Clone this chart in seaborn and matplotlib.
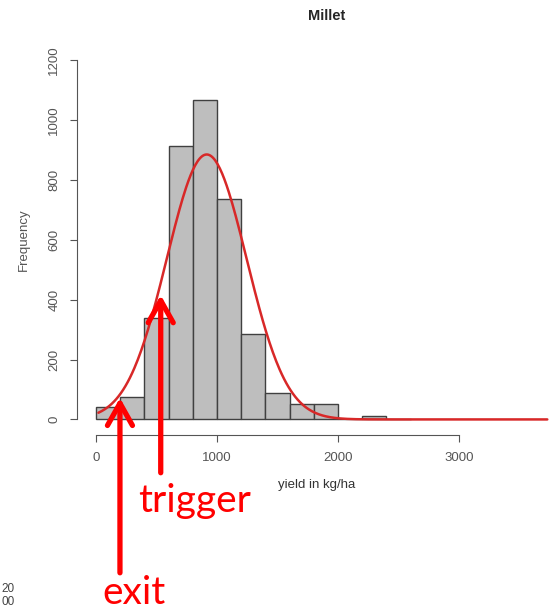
import numpy as np
import pandas as pd
import matplotlib
matplotlib.use("Agg")
import matplotlib.pyplot as plt
import seaborn as sns

# histogram of millet yield, bins of 200 kg/ha
bin_edges = [0, 200, 400, 600, 800, 1000, 1200, 1400, 1600, 1800, 2000, 2200, 2400, 2600]
counts = [40, 76, 337, 913, 1067, 735, 284, 89, 51, 51, 2, 10, 3]

# fitted normal curve
fit_mean = 915
fit_sd = 330
fit_from, fit_to = 20, 3730

x_ticks = [0, 1000, 2000, 3000]
y_ticks = [0, 200, 400, 600, 800, 1000, 1200]

sns.set_style("white")
plt.rcParams["font.family"] = ["Liberation Sans", "DejaVu Sans"]

fig = plt.figure(figsize=(5.58, 6.12), dpi=100)
ax = fig.add_axes([0.138, 0.2892, 0.858, 0.6373])

centers = [(a + b) / 2 for a, b in zip(bin_edges[:-1], bin_edges[1:])]
hist_df = pd.DataFrame({"yield": centers, "n": counts})
sns.histplot(data=hist_df, x="yield", weights="n", bins=bin_edges, ax=ax,
             color="#bebebe", edgecolor="#404040", linewidth=1.0, alpha=1.0)

n_total = sum(counts)
bw = bin_edges[1] - bin_edges[0]
xs = np.linspace(fit_from, fit_to, 400)
ys = n_total * bw * np.exp(-0.5 * ((xs - fit_mean) / fit_sd) ** 2) / (fit_sd * np.sqrt(2 * np.pi))
sns.lineplot(x=xs, y=ys, ax=ax, color="#d82828", linewidth=1.8)

ax.set_xlim(-157, 3800)
ax.set_ylim(-52, 1250)
ax.set_xticks(x_ticks)
ax.set_yticks(y_ticks)
ax.set_yticklabels([str(v) for v in y_ticks], rotation=90, va="center")
ax.tick_params(axis="both", direction="out", length=5, width=0.8, color="#555555",
               labelsize=9.5, labelcolor="#555555", left=True, bottom=True, pad=7)
for s in ["top", "right"]:
    ax.spines[s].set_visible(False)
ax.spines["left"].set_bounds(0, 1200)
ax.spines["bottom"].set_bounds(0, 3000)
for s in ["left", "bottom"]:
    ax.spines[s].set_color("#555555")
    ax.spines[s].set_linewidth(0.8)

ax.set_xlabel("yield in kg/ha", fontsize=9.5, color="#333333", labelpad=11)
ax.set_ylabel("Frequency", fontsize=9.5, color="#555555", labelpad=13)
fig.text(0.586, 0.974, "Millet", fontsize=10.5, fontweight="bold", ha="center", va="center")

# red annotations
arrow = dict(arrowstyle="->,head_length=0.8,head_width=0.45", color="red",
             lw=3.8, mutation_scale=20, shrinkA=0, shrinkB=0)
ax.annotate("", xy=(198, 72), xytext=(198, -512), arrowprops=arrow, annotation_clip=False)
ax.annotate("", xy=(535, 415), xytext=(535, -178), arrowprops=arrow, annotation_clip=False)
fig.text(138 / 558, 1 - 512 / 612, "trigger", color="red", fontsize=28,
         family=["Lato", "DejaVu Sans"], ha="left", va="baseline")
fig.text(102 / 558, 1 - 604 / 612, "exit", color="red", fontsize=28,
         family=["Lato", "DejaVu Sans"], ha="left", va="baseline")

# small text at bottom left corner
fig.text(0.002, 1 - 589 / 612, "20", fontsize=8.5, color="#444444", va="center")
fig.text(0.002, 1 - 602 / 612, "00", fontsize=8.5, color="#444444", va="center")

plt.savefig("out.png", dpi=100)
